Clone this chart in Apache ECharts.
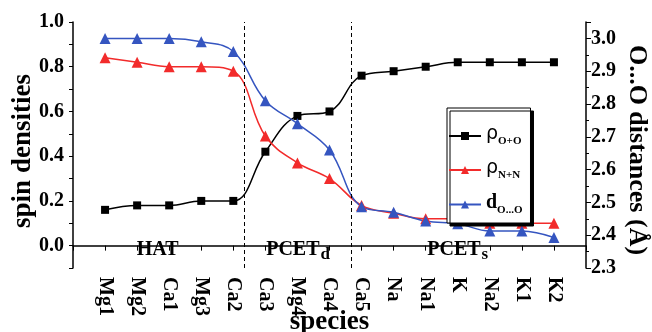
<!DOCTYPE html>
<html>
<head>
<meta charset="utf-8">
<script src="https://cdn.jsdelivr.net/npm/echarts@6/dist/echarts.min.js"></script>
<style>
html, body { margin: 0; padding: 0; background: #fff; }
#chart { width: 652px; height: 332px; }
</style>
</head>
<body>
<div id="chart"></div>
<script>
// species along the x axis (placed at positions 1..15)
const species = ['Mg1', 'Mg2', 'Ca1', 'Mg3', 'Ca2', 'Ca3', 'Mg4', 'Ca4', 'Ca5', 'Na', 'Na1', 'K', 'Na2', 'K1', 'K2'];
// spin densities (left axis)
const rhoOO = [0.16, 0.18, 0.18, 0.20, 0.20, 0.42, 0.58, 0.60, 0.76, 0.78, 0.80, 0.82, 0.82, 0.82, 0.82];
const rhoNN = [0.84, 0.82, 0.80, 0.80, 0.78, 0.49, 0.37, 0.30, 0.18, 0.145, 0.12, 0.12, 0.10, 0.10, 0.10];
// O...O distances (right axis)
const dOO = [3.00, 3.00, 3.00, 2.99, 2.96, 2.81, 2.74, 2.66, 2.487, 2.47, 2.443, 2.435, 2.413, 2.413, 2.393];
// region separators and labels
const dividers = [5.33, 8.67];
const regionNames = ['HAT', 'PCET{sub|d}', 'PCET{sub|s}'];
const regionX = [2.64, 7.02, 12.0];
const regionY = [-0.02, -0.02, -0.02];

const serif = 'Liberation Serif';
const black = '#000';
const red = '#f22b2b';
const blue = '#3555c0';

function pts(vals) {
  return vals.map((v, i) => [i + 1, v]);
}

const legendText = {
  rhoOO: '{rho|ρ}{sub|O+O}',
  rhoNN: '{rho|ρ}{sub|N+N}',
  dOO: '{d|d}{sub|O...O}'
};

let myChart = echarts.init(document.getElementById('chart'));
let option = {
  animation: false,
  grid: { left: 73, right: 66, top: 22, bottom: 64, outerBoundsMode: 'none', containLabel: false },
  legend: {
    orient: 'vertical',
    left: 447,
    top: 108,
    padding: [17, 8, 7, 1],
    itemGap: 12,
    itemWidth: 32,
    itemHeight: 10,
    backgroundColor: '#fff',
    borderColor: '#000',
    borderWidth: 1,
    shadowColor: '#000',
    shadowBlur: 0,
    shadowOffsetX: 3,
    shadowOffsetY: 3,
    data: ['rhoOO', 'rhoNN', 'dOO'],
    formatter: name => legendText[name],
    textStyle: {
      color: '#000',
      rich: {
        rho: { fontFamily: 'DejaVu Sans', fontSize: 19, verticalAlign: 'bottom', padding: [0, 0, 3, 0] },
        d: { fontFamily: serif, fontWeight: 'bold', fontSize: 20, verticalAlign: 'bottom', padding: [0, 0, 3, 0] },
        sub: { fontFamily: serif, fontWeight: 'bold', fontSize: 11, verticalAlign: 'bottom' }
      }
    }
  },
  xAxis: {
    type: 'value',
    min: 0,
    max: 16,
    interval: 1,
    name: 'species',
    nameLocation: 'middle',
    nameGap: 41,
    nameMoveOverlap: false,
    nameTextStyle: { fontFamily: serif, fontWeight: 'bold', fontSize: 27, color: '#000' },
    axisLine: { lineStyle: { color: '#000', width: 1.5 } },
    axisTick: { length: 5, lineStyle: { color: '#000' } },
    axisLabel: {
      rotate: -90,
      margin: 9,
      color: '#000',
      fontFamily: serif,
      fontWeight: 'bold',
      fontSize: 20,
      formatter: v => species[v - 1] || ''
    },
    splitLine: { show: false }
  },
  yAxis: [{
    type: 'value',
    min: -0.1,
    max: 1.0,
    interval: 0.1,
    position: 'left',
    name: 'spin densities',
    nameLocation: 'middle',
    nameGap: 36,
    nameMoveOverlap: false,
    nameTextStyle: { fontFamily: serif, fontWeight: 'bold', fontSize: 27, color: '#000', padding: [0, 12, 0, 0] },
    axisLine: { show: true, lineStyle: { color: '#000', width: 1.5 } },
    axisTick: { show: true, length: 4, lineStyle: { color: '#000' } },
    axisLabel: {
      margin: 9,
      color: '#000',
      fontFamily: serif,
      fontWeight: 'bold',
      fontSize: 20,
      formatter: v => {
        let k = Math.round(v * 10);
        return (k >= 0 && k % 2 === 0) ? (k / 10).toFixed(1) : '';
      }
    },
    splitLine: { show: false }
  }, {
    type: 'value',
    min: 2.3,
    max: 3.05,
    interval: 0.1,
    position: 'right',
    name: 'O...O distances (Å)',
    nameLocation: 'middle',
    nameRotate: -90,
    nameGap: 38,
    nameMoveOverlap: false,
    nameTextStyle: { fontFamily: serif, fontWeight: 'bold', fontSize: 26, color: '#000', padding: [0, 0, 0, 10] },
    axisLine: { show: true, lineStyle: { color: '#000', width: 1.5 } },
    axisTick: { show: true, length: 5, lineStyle: { color: '#000' } },
    minorTick: { show: true, splitNumber: 2, length: 3, lineStyle: { color: '#000' } },
    axisLabel: {
      margin: 5,
      color: '#000',
      fontFamily: serif,
      fontWeight: 'bold',
      fontSize: 20,
      formatter: v => Math.abs(v * 10 - Math.round(v * 10)) < 1e-6 ? v.toFixed(1) : ''
    },
    splitLine: { show: false }
  }],
  series: [{
    name: 'rhoOO',
    type: 'line',
    yAxisIndex: 0,
    data: pts(rhoOO),
    smooth: 0.4,
    symbol: 'rect',
    symbolSize: 8,
    lineStyle: { color: black, width: 1.5 },
    itemStyle: { color: black },
    markLine: {
      silent: true,
      symbol: 'none',
      label: { show: false },
      lineStyle: { color: '#000', type: [4, 3], width: 1 },
      data: dividers.map(x => ({ xAxis: x }))
    },
    markPoint: {
      silent: true,
      symbol: 'circle',
      symbolSize: 1,
      itemStyle: { color: 'rgba(0,0,0,0)' },
      label: {
        show: true,
        position: 'inside',
        formatter: p => p.name,
        color: '#000',
        opacity: 1,
        fontFamily: serif,
        fontWeight: 'bold',
        fontSize: 20,
        rich: {
          sub: { color: '#000', fontFamily: serif, fontWeight: 'bold', fontSize: 17, padding: [10, 0, 0, 1] }
        }
      },
      data: regionNames.map((n, i) => ({ name: n, coord: [regionX[i], regionY[i]] }))
    }
  }, {
    name: 'rhoNN',
    type: 'line',
    yAxisIndex: 0,
    data: pts(rhoNN),
    smooth: 0.4,
    symbol: 'triangle',
    symbolSize: 11,
    lineStyle: { color: red, width: 1.5 },
    itemStyle: { color: red }
  }, {
    name: 'dOO',
    type: 'line',
    yAxisIndex: 1,
    data: pts(dOO),
    smooth: 0.4,
    symbol: 'triangle',
    symbolSize: 11,
    lineStyle: { color: blue, width: 1.5 },
    itemStyle: { color: blue }
  }]
}
myChart.setOption(option)
</script>
</body>
</html>
